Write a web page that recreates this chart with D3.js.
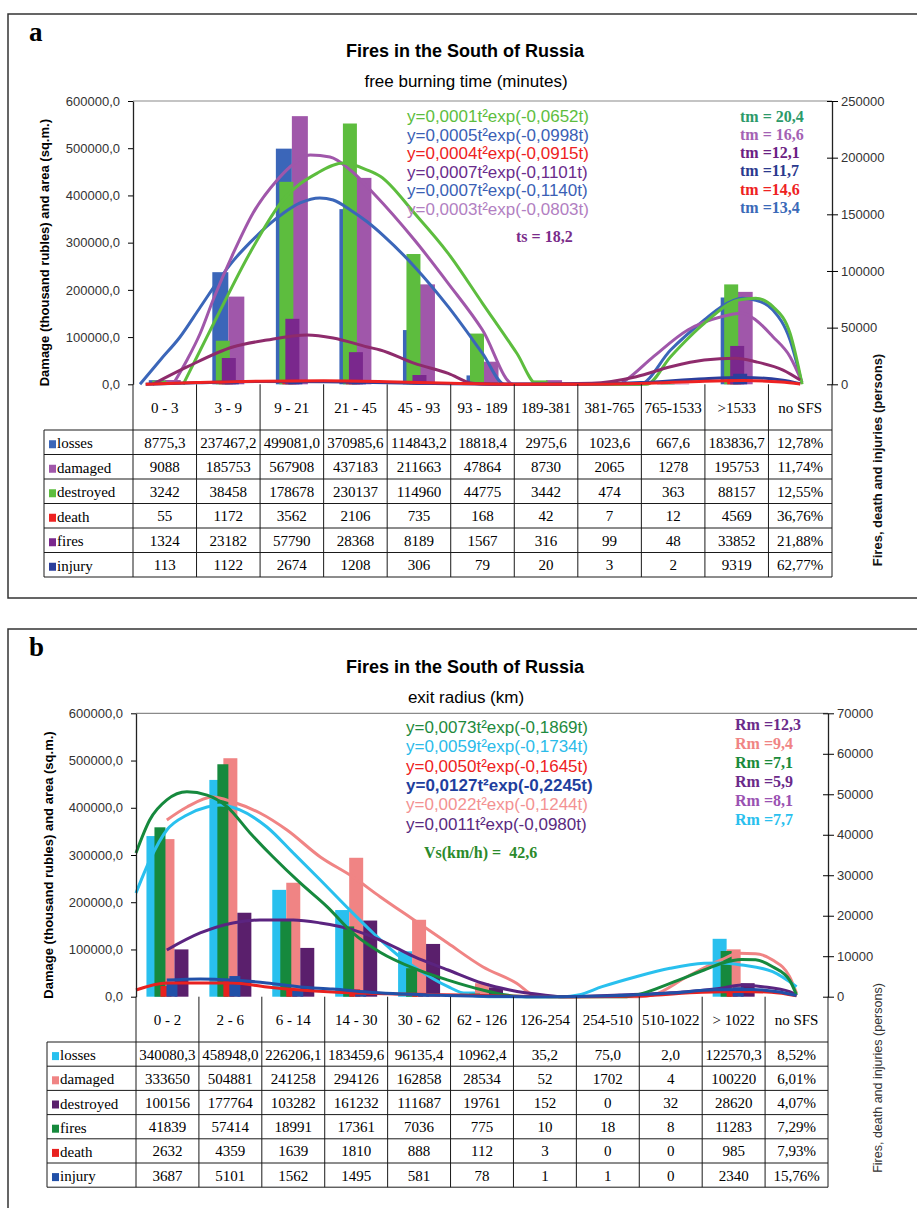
<!DOCTYPE html>
<html>
<head>
<meta charset="utf-8">
<script src="https://cdn.jsdelivr.net/npm/d3@7"></script>
<style>
  body { margin: 0; background: #fff; }
  svg { display: block; }
  text { font-family: "Liberation Sans", Arial, sans-serif; }
</style>
</head>
<body>
<svg id="chart" width="917" height="1208"></svg>
<script>
// ---------- panel a : free burning time ----------
const categoriesA = ['0 - 3', '3 - 9', '9 - 21', '21 - 45', '45 - 93', '93 - 189', '189-381', '381-765', '765-1533', '>1533', 'no SFS'];
const lossesA = [8775.3, 237467.2, 499081.0, 370985.6, 114843.2, 18818.4, 2975.6, 1023.6, 667.6, 183836.7];
const damagedA = [9088, 185753, 567908, 437183, 211663, 47864, 8730, 2065, 1278, 195753];
const destroyedA = [3242, 38458, 178678, 230137, 114960, 44775, 3442, 474, 363, 88157];
const deathA = [55, 1172, 3562, 2106, 735, 168, 42, 7, 12, 4569];
const firesA = [1324, 23182, 57790, 28368, 8189, 1567, 316, 99, 48, 33852];
const injuryA = [113, 1122, 2674, 1208, 306, 79, 20, 3, 2, 9319];
// "no SFS" column: losses, damaged, destroyed, death, fires, injury
const noSfsA = ['12,78%', '11,74%', '12,55%', '36,76%', '21,88%', '62,77%'];

// fitted curves: [position in categories, value]
const fitLossesA = [[0.11, 0], [0.43, 51500], [0.74, 100200], [1.06, 163700], [1.37, 225000], [1.58, 262000], [1.84, 300000], [2.11, 335000], [2.37, 362800], [2.63, 384000], [2.94, 394700], [3.15, 390400], [3.42, 369300], [3.69, 343700], [3.94, 315000], [4.43, 249100], [4.96, 164400], [5.5, 65600], [5.85, 0], [7.97, 0], [8.46, 72600], [8.99, 136200], [9.26, 164400], [9.59, 182100], [9.8, 178000], [10.07, 157400], [10.34, 93800], [10.52, 5000]];
const fitDamagedA = [[0.63, 0], [0.85, 51500], [1.06, 108700], [1.26, 178500], [1.58, 278100], [1.89, 362800], [2.27, 432700], [2.47, 460200], [2.79, 485600], [3.1, 481400], [3.42, 453900], [3.78, 405200], [4.43, 305600], [4.96, 213900], [5.5, 115000], [5.99, 0], [7.65, 0], [7.76, 9100], [8.19, 58500], [8.73, 115000], [9.26, 143200], [9.59, 150400], [9.8, 136200], [10.07, 100800], [10.34, 58500], [10.53, 4000]];
const fitDestroyedA = [[0.79, 0], [1.06, 30300], [1.32, 59400], [1.84, 115900], [2.36, 162600], [2.9, 186400], [3.31, 195200], [3.69, 189000], [3.89, 183600], [4.43, 150900], [4.96, 115600], [5.5, 71500], [6.04, 27400], [6.36, 0], [8.08, 0], [8.46, 24400], [8.99, 53800], [9.53, 74400], [9.8, 75900], [10.07, 68500], [10.34, 45000], [10.53, 0]];
const fitFiresA = [[0.31, 0], [0.85, 15300], [1.57, 32900], [2.11, 39100], [2.74, 43500], [3.15, 40900], [3.69, 32900], [3.89, 30300], [4.43, 18500], [4.96, 9700], [5.34, 900], [5.6, 0], [7.22, 900], [7.92, 6700], [8.46, 15500], [8.99, 21400], [9.48, 22900], [9.8, 19900], [10.23, 12600], [10.5, 3800]];
const fitDeathA = [[0.2, 0], [1.0, 1500], [2.0, 2800], [3.0, 3100], [4.0, 2300], [5.0, 900], [6.0, 100], [7.0, 0], [8.0, 600], [9.0, 2800], [9.6, 3300], [10.2, 2000], [10.5, 300]];
const fitInjuryA = [[0.2, 0], [1.0, 1300], [2.0, 2400], [3.0, 2300], [4.0, 1400], [5.0, 500], [6.0, 100], [7.0, 0], [8.0, 1500], [9.0, 5000], [9.6, 6000], [10.2, 3800], [10.5, 500]];

const equationsA = ['y=0,0001t²exp(-0,0652t)', 'y=0,0005t²exp(-0,0998t)', 'y=0,0004t²exp(-0,0915t)', 'y=0,0007t²exp(-0,1101t)', 'y=0,0007t²exp(-0,1140t)', 'y=0,0003t²exp(-0,0803t)'];
const peaksA = ['tm = 20,4', 'tm = 16,6', 'tm =12,1', 'tm =11,7', 'tm =14,6', 'tm =13,4'];

// ---------- panel b : exit radius ----------
const categoriesB = ['0 - 2', '2 - 6', '6 - 14', '14 - 30', '30 - 62', '62 - 126', '126-254', '254-510', '510-1022', '> 1022', 'no SFS'];
const lossesB = [340080.3, 458948.0, 226206.1, 183459.6, 96135.4, 10962.4, 35.2, 75.0, 2.0, 122570.3];
const damagedB = [333650, 504881, 241258, 294126, 162858, 28534, 52, 1702, 4, 100220];
const destroyedB = [100156, 177764, 103282, 161232, 111687, 19761, 152, 0, 32, 28620];
const firesB = [41839, 57414, 18991, 17361, 7036, 775, 10, 18, 8, 11283];
const deathB = [2632, 4359, 1639, 1810, 888, 112, 3, 0, 0, 985];
const injuryB = [3687, 5101, 1562, 1495, 581, 78, 1, 1, 0, 2340];
// "no SFS" column: losses, damaged, destroyed, fires, death, injury
const noSfsB = ['8,52%', '6,01%', '4,07%', '7,29%', '7,93%', '15,76%'];

const fitLossesB = [[0, 219500], [0.22, 289400], [0.49, 352900], [0.81, 384700], [1.13, 401600], [1.34, 405800], [1.65, 395300], [2.08, 359300], [2.5, 304200], [2.93, 247100], [3.35, 189900], [3.77, 134900], [4.2, 84100], [4.42, 63500], [4.96, 21200], [5.29, 3600], [5.6, 0], [6.8, 0], [7.03, 3600], [7.41, 21200], [7.95, 42300], [8.49, 60100], [9.03, 70700], [9.3, 71500], [9.63, 67100], [10.12, 52900], [10.5, 21200]];
const fitDamagedB = [[0.49, 374100], [0.81, 401600], [1.22, 422800], [1.54, 412200], [1.97, 388900], [2.4, 352900], [2.93, 295800], [3.45, 253400], [3.88, 211700], [4.42, 162400], [4.96, 113000], [5.51, 63500], [6.05, 28400], [6.32, 3600], [6.6, 0], [8.0, 0], [8.22, 3600], [8.76, 42300], [9.3, 77700], [9.58, 91900], [9.85, 91000], [10.12, 77700], [10.39, 42300], [10.5, 7200]];
const fitDestroyedB = [[0.49, 98900], [1.02, 134900], [1.54, 156200], [1.97, 162400], [2.5, 162400], [2.93, 156200], [3.45, 141400], [3.88, 120000], [4.42, 84700], [4.96, 56500], [5.51, 28400], [5.94, 14200], [6.48, 3600], [6.8, 0], [7.68, 3600], [8.76, 10600], [9.3, 17800], [9.63, 24800], [9.96, 21200], [10.39, 10600], [10.5, 3600]];
const fitFiresB = [[0, 35500], [0.22, 43700], [0.49, 48600], [0.81, 50600], [1.13, 49800], [1.45, 46900], [1.81, 40500], [2.18, 34500], [2.61, 28100], [3.04, 22200], [3.45, 15700], [3.88, 11000], [4.42, 7000], [4.96, 4100], [5.51, 1650], [5.89, 400], [6.2, 0], [7.8, 0], [7.95, 400], [8.49, 3300], [9.03, 6600], [9.3, 8200], [9.63, 9200], [9.85, 9100], [10.12, 7400], [10.39, 4100], [10.5, 400]];
const fitDeathB = [[0, 1650], [0.49, 3400], [1.02, 3400], [1.54, 3400], [2.08, 2400], [2.61, 1650], [3.13, 1160], [4.0, 700], [5.15, 400], [6.0, 100], [7.0, 0], [8.0, 200], [9.0, 1100], [9.6, 1300], [10.1, 1100], [10.5, 200]];
const fitInjuryB = [[0.49, 4100], [1.02, 4400], [1.54, 4100], [2.08, 3400], [2.61, 2400], [3.13, 1900], [3.67, 1160], [4.72, 400], [5.5, 100], [6.5, 0], [7.5, 200], [8.5, 900], [9.2, 1700], [9.8, 1800], [10.2, 1200], [10.5, 300]];

const equationsB = ['y=0,0073t²exp(-0,1869t)', 'y=0,0059t²exp(-0,1734t)', 'y=0,0050t²exp(-0,1645t)', 'y=0,0127t²exp(-0,2245t)', 'y=0,0022t²exp(-0,1244t)', 'y=0,0011t²exp(-0,0980t)'];
const peaksB = ['Rm =12,3', 'Rm =9,4', 'Rm =7,1', 'Rm =5,9', 'Rm =8,1', 'Rm =7,7'];

// ---------- drawing ----------
const svg = d3.select('#chart');
const serif = '"Liberation Serif", "Times New Roman", serif';

function fmtCell(v, dec) {
    return dec ? v.toFixed(dec).replace('.', ',') : String(v);
}

function drawPanel(p) {
    const g = svg.append('g');

    // panel frame and letter
    g.append('rect')
        .attr('x', 8).attr('y', p.boxTop)
        .attr('width', 960).attr('height', p.boxBottom - p.boxTop)
        .attr('fill', 'none').attr('stroke', '#333').attr('stroke-width', 1.5);
    g.append('text')
        .attr('x', 29).attr('y', p.boxTop + 27)
        .text(p.letter)
        .style('font-family', serif).style('font-weight', 'bold').style('font-size', '27px');

    // titles
    g.append('text').attr('x', 465).attr('y', p.titleY).attr('text-anchor', 'middle')
        .text(p.title).style('font-weight', 'bold').style('font-size', '18px');
    g.append('text').attr('x', 466).attr('y', p.titleY + 30).attr('text-anchor', 'middle')
        .text(p.subtitle).style('font-size', '17px');

    const n = p.categories.length;
    const x = d3.scaleBand().domain(p.categories).range([p.left, p.right]);
    const xu = d3.scaleLinear().domain([0, n]).range([p.left, p.right]);
    const yL = d3.scaleLinear().domain([0, 600000]).range([p.bottom, p.top]);
    const yR = d3.scaleLinear().domain([0, p.rightMax]).range([p.bottom, p.top]);
    const scaleOf = a => (a === 'right' ? yR : yL);

    // plot top border
    g.append('line')
        .attr('x1', p.left).attr('x2', p.right).attr('y1', p.top).attr('y2', p.top)
        .attr('stroke', '#8a8a8a').attr('stroke-width', 1.2);

    // bars: primary group first, secondary group drawn over it
    p.bars.forEach(s => {
        const y = scaleOf(s.axis);
        g.append('g').selectAll('rect')
            .data(s.values)
            .join('rect')
            .attr('x', (d, i) => x(p.categories[i]) + x.bandwidth() / 2 + s.offset)
            .attr('width', s.width)
            .attr('y', d => y(d))
            .attr('height', d => p.bottom - y(d))
            .attr('fill', s.color);
    });

    // fitted curves
    p.curves.forEach(c => {
        const y = scaleOf(c.axis);
        const line = d3.line()
            .x(d => xu(d[0]))
            .y(d => y(d[1]))
            .curve(d3.curveMonotoneX);
        g.append('path')
            .datum(c.points)
            .attr('d', line)
            .attr('fill', 'none')
            .attr('stroke', c.color)
            .attr('stroke-width', c.width || 3)
            .attr('stroke-linejoin', 'round');
    });

    // left axis
    const axL = g.append('g')
        .attr('transform', `translate(${p.left},0)`)
        .call(d3.axisLeft(yL)
            .tickValues(d3.range(0, 600001, 100000))
            .tickSizeInner(5).tickSizeOuter(0).tickPadding(8)
            .tickFormat(d => d3.format('.1f')(d).replace('.', ',')));
    axL.select('.domain').attr('stroke', '#222').attr('stroke-width', 1.3);
    axL.selectAll('text').style('font-size', '13px').attr('fill', '#333')
        .style('font-family', '"Liberation Sans", Arial, sans-serif');

    // right axis
    const axR = g.append('g')
        .attr('transform', `translate(${p.right},0)`)
        .call(d3.axisRight(yR)
            .tickValues(d3.range(0, p.rightMax + 1, p.rightStep))
            .tickSizeInner(6).tickSizeOuter(0).tickPadding(3)
            .tickFormat(d3.format('d')));
    axR.select('.domain').attr('stroke', '#222').attr('stroke-width', 1.3);
    axR.selectAll('.tick line').attr('x1', -5);
    axR.selectAll('text').style('font-size', '13px').attr('fill', '#333')
        .style('font-family', '"Liberation Sans", Arial, sans-serif');

    // axis titles
    g.append('text')
        .attr('transform', `translate(${p.leftTitleX},${(p.top + p.bottom) / 2 + 10}) rotate(-90)`)
        .attr('text-anchor', 'middle')
        .text('Damage (thousand rubles) and area (sq.m.)')
        .style('font-weight', 'bold').style('font-size', '13px');
    g.append('text')
        .attr('transform', `translate(${p.rightTitleX},${p.rightTitleY}) rotate(-90)`)
        .attr('text-anchor', 'middle')
        .text('Fires, death and injuries (persons)')
        .style('font-weight', p.rightTitleBold ? 'bold' : 'normal')
        .style('font-size', p.rightTitleBold ? '13px' : '12.5px')
        .attr('fill', p.rightTitleBold ? '#111' : '#333');

    // equations and peak labels
    p.equations.forEach((e, i) => {
        g.append('text')
            .attr('x', p.eqX).attr('y', p.eqY + i * p.eqStep)
            .text(e)
            .attr('fill', p.eqColors[i])
            .style('font-size', '17px')
            .style('font-weight', p.eqBold && p.eqBold[i] ? 'bold' : 'normal');
    });
    p.peaks.forEach((e, i) => {
        g.append('text')
            .attr('x', p.peakX).attr('y', p.peakY + i * p.peakStep)
            .text(e)
            .attr('fill', p.peakColors[i])
            .style('font-family', serif).style('font-weight', 'bold').style('font-size', '16px');
    });
    p.notes.forEach(t => {
        g.append('text')
            .attr('x', t.x).attr('y', t.y)
            .attr('xml:space', 'preserve')
            .text(t.text)
            .attr('fill', t.color)
            .style('font-family', serif).style('font-weight', 'bold').style('font-size', '16px');
    });

    // data table
    const rowsTop = p.headerBottom;
    const tableBottom = rowsTop + p.rows.length * p.rowH;
    const lineColor = '#1a1a1a';
    const bounds = d3.range(n + 1).map(i => (i < n ? x(p.categories[i]) : p.right));

    bounds.forEach(bx => {
        g.append('line')
            .attr('x1', bx).attr('x2', bx).attr('y1', p.bottom).attr('y2', tableBottom)
            .attr('stroke', lineColor).attr('stroke-width', 1);
    });
    g.append('line')
        .attr('x1', p.tableLeft).attr('x2', p.tableLeft).attr('y1', rowsTop).attr('y2', tableBottom)
        .attr('stroke', lineColor).attr('stroke-width', 1);
    d3.range(p.rows.length + 1).forEach(r => {
        g.append('line')
            .attr('x1', p.tableLeft).attr('x2', p.right)
            .attr('y1', rowsTop + r * p.rowH).attr('y2', rowsTop + r * p.rowH)
            .attr('stroke', lineColor).attr('stroke-width', 1);
    });

    // header labels
    g.append('g').selectAll('text')
        .data(p.categories)
        .join('text')
        .attr('x', d => x(d) + x.bandwidth() / 2)
        .attr('y', (p.bottom + rowsTop) / 2 + 6)
        .attr('text-anchor', 'middle')
        .text(d => d)
        .style('font-family', serif).style('font-size', '15px');

    // rows
    p.rows.forEach((row, r) => {
        const cy = rowsTop + r * p.rowH + p.rowH / 2;
        g.append('rect')
            .attr('x', p.tableLeft + 5).attr('y', cy - 2)
            .attr('width', 7).attr('height', 8)
            .attr('fill', row.color);
        g.append('text')
            .attr('x', p.tableLeft + 13).attr('y', cy + 6)
            .text(row.name)
            .style('font-family', serif).style('font-size', '15px');
        const cells = row.values.map(v => fmtCell(v, row.dec)).concat([row.share]);
        g.append('g').selectAll('text')
            .data(cells)
            .join('text')
            .attr('x', (d, i) => x(p.categories[i]) + x.bandwidth() / 2)
            .attr('y', cy + 5.5)
            .attr('text-anchor', 'middle')
            .text(d => d)
            .style('font-family', serif).style('font-size', '15px');
    });
}

// colours
const cA = {
    losses: '#3b66b9', damaged: '#a057aa', destroyed: '#5dbd3e',
    death: '#ee2222', fires: '#7a288d', injury: '#2b3e9c', firesFit: '#8e2b6c'
};
const cB = {
    losses: '#29c0ee', damaged: '#f08484', destroyed: '#5a1f6c',
    fires: '#16893d', death: '#e8211f', injury: '#2150a8', destroyedFit: '#5b2480'
};

drawPanel({
    letter: 'a', boxTop: 14, boxBottom: 598,
    title: 'Fires in the South of Russia', subtitle: 'free burning time (minutes)', titleY: 57,
    left: 133, right: 832, top: 101, bottom: 384.3,
    rightMax: 250000, rightStep: 50000,
    leftTitleX: 49, rightTitleX: 882, rightTitleY: 460, rightTitleBold: true,
    categories: categoriesA,
    bars: [
        { values: lossesA, color: cA.losses, axis: 'left', offset: -16, width: 16 },
        { values: damagedA, color: cA.damaged, axis: 'left', offset: 0, width: 16 },
        { values: destroyedA, color: cA.destroyed, axis: 'right', offset: -12.5, width: 14 },
        { values: deathA, color: cA.death, axis: 'right', offset: -9.5, width: 14 },
        { values: firesA, color: cA.fires, axis: 'right', offset: -6.5, width: 14 },
        { values: injuryA, color: cA.injury, axis: 'right', offset: -3.5, width: 14 }
    ],
    curves: [
        { points: fitLossesA, color: cA.losses, axis: 'left' },
        { points: fitDamagedA, color: cA.damaged, axis: 'left' },
        { points: fitDestroyedA, color: cA.destroyed, axis: 'right' },
        { points: fitFiresA, color: cA.firesFit, axis: 'right' },
        { points: fitInjuryA, color: cA.injury, axis: 'right' },
        { points: fitDeathA, color: cA.death, axis: 'right' }
    ],
    equations: equationsA, eqX: 407, eqY: 122, eqStep: 18.5,
    eqColors: ['#5dbd3e', '#3b5fb5', '#ee2222', '#6a2c8c', '#3b5fb5', '#b27fc2'],
    peaks: peaksA, peakX: 740, peakY: 121.5, peakStep: 18.3,
    peakColors: ['#2c9a6a', '#a462b4', '#6b2183', '#2b3a8e', '#ee2222', '#3a6ab8'],
    notes: [{ text: 'ts = 18,2', x: 516, y: 242, color: '#7a2c8a' }],
    tableLeft: 44, headerBottom: 430, rowH: 24.5,
    rows: [
        { name: 'losses', color: cA.losses, values: lossesA, dec: 1, share: noSfsA[0] },
        { name: 'damaged', color: cA.damaged, values: damagedA, share: noSfsA[1] },
        { name: 'destroyed', color: cA.destroyed, values: destroyedA, share: noSfsA[2] },
        { name: 'death', color: cA.death, values: deathA, share: noSfsA[3] },
        { name: 'fires', color: cA.fires, values: firesA, share: noSfsA[4] },
        { name: 'injury', color: cA.injury, values: injuryA, share: noSfsA[5] }
    ]
});

drawPanel({
    letter: 'b', boxTop: 629, boxBottom: 1240,
    title: 'Fires in the South of Russia', subtitle: 'exit radius (km)', titleY: 673,
    left: 136, right: 828, top: 713.3, bottom: 996.7,
    rightMax: 70000, rightStep: 10000,
    leftTitleX: 53, rightTitleX: 882, rightTitleY: 1078, rightTitleBold: false,
    categories: categoriesB,
    bars: [
        { values: lossesB, color: cB.losses, axis: 'left', offset: -21, width: 14 },
        { values: damagedB, color: cB.damaged, axis: 'left', offset: -7, width: 14 },
        { values: destroyedB, color: cB.destroyed, axis: 'left', offset: 7, width: 14 },
        { values: firesB, color: cB.fires, axis: 'right', offset: -13, width: 11 },
        { values: deathB, color: cB.death, axis: 'right', offset: -7, width: 11 },
        { values: injuryB, color: cB.injury, axis: 'right', offset: -1, width: 11 }
    ],
    curves: [
        { points: fitDamagedB, color: cB.damaged, axis: 'left' },
        { points: fitLossesB, color: cB.losses, axis: 'left' },
        { points: fitDestroyedB, color: cB.destroyedFit, axis: 'left' },
        { points: fitFiresB, color: cB.fires, axis: 'right' },
        { points: fitDeathB, color: cB.death, axis: 'right' },
        { points: fitInjuryB, color: cB.injury, axis: 'right' }
    ],
    equations: equationsB, eqX: 406, eqY: 733, eqStep: 19.3,
    eqColors: ['#1e8a3e', '#2bbbe9', '#ee2222', '#1f3f9e', '#f39292', '#5a2a80'],
    eqBold: [false, false, false, true, false, false],
    peaks: peaksB, peakX: 735, peakY: 730, peakStep: 19,
    peakColors: ['#6b2a8a', '#f08484', '#1a8a3a', '#6b2a8a', '#9a52b2', '#29c0ee'],
    notes: [{ text: 'Vs(km/h) =  42,6', x: 424, y: 858, color: '#2a8a2a' }],
    tableLeft: 47, headerBottom: 1042, rowH: 24.2,
    rows: [
        { name: 'losses', color: cB.losses, values: lossesB, dec: 1, share: noSfsB[0] },
        { name: 'damaged', color: cB.damaged, values: damagedB, share: noSfsB[1] },
        { name: 'destroyed', color: cB.destroyed, values: destroyedB, share: noSfsB[2] },
        { name: 'fires', color: cB.fires, values: firesB, share: noSfsB[3] },
        { name: 'death', color: cB.death, values: deathB, share: noSfsB[4] },
        { name: 'injury', color: cB.injury, values: injuryB, share: noSfsB[5] }
    ]
});
</script>
</body>
</html>
